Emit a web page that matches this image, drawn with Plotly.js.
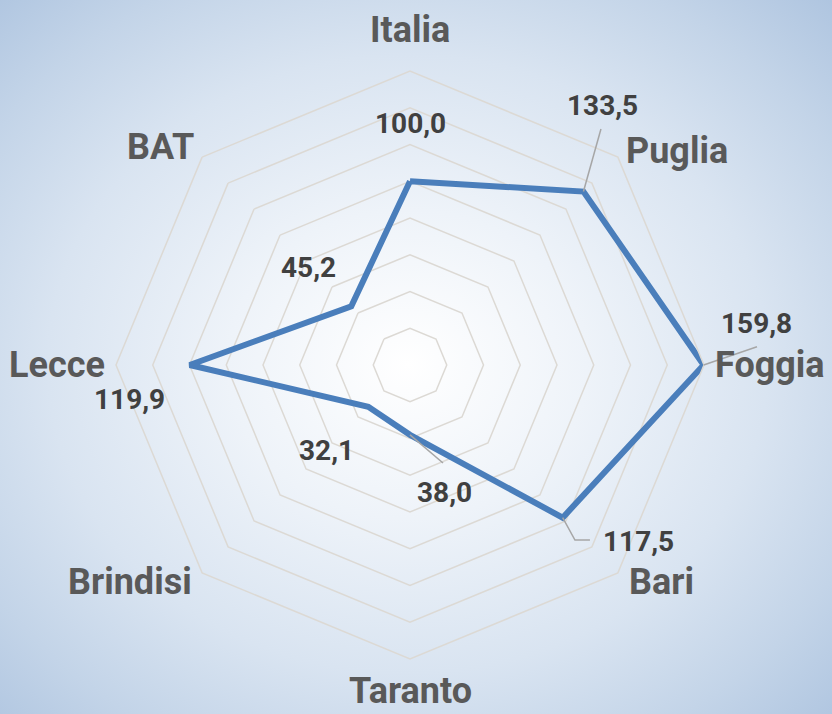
<!DOCTYPE html>
<html>
<head>
<meta charset="utf-8">
<script src="https://cdn.plot.ly/plotly-3.0.1.min.js"></script>
<style>
  html, body { margin: 0; padding: 0; }
  body {
    width: 832px; height: 714px; overflow: hidden;
    background: radial-gradient(ellipse farthest-corner at 49% 51%, #ffffff 0%, #eef3f9 30%, #d9e4f1 60%, #c3d4e8 82%, #afc5e0 100%);
  }
  #chart { width: 832px; height: 714px; }
</style>
</head>
<body>
<div id="chart"></div>
<script>
// ---- data ----
const categories = ["Italia", "Puglia", "Foggia", "Bari", "Taranto", "Brindisi", "Lecce", "BAT"];
const values = [100.0, 133.5, 159.8, 117.5, 38.0, 32.1, 119.9, 45.2];
const valueLabels = ["100,0", "133,5", "159,8", "117,5", "38,0", "32,1", "119,9", "45,2"];
const radialMax = 160;
const radialStep = 20;

// ---- label placement (style: radial offset in axis units, angular offset in degrees) ----
const labelDr = [31.7, 42.0, 30.4, 39.6, 33.7, 32.6, 33.7, 31.4];
const labelDt = [0, -8.45, -6.9, -7.2, -15.4, -0.7, -7.1, -0.9];
// category label placement outside the outer ring (radius in axis units, angular offset)
const catLabelR = [182.3, 186.0, 195.9, 180.6, 177.4, 192.8, 192.1, 180.5];
const catLabelDt = [0, 6.3, 0, -4.2, 0, 7.2, 0, -3.9];
// leader lines: list of [pointIndex, [[dr, dtheta], ...]]
const leaders = [
  [1, [[31.7, -6.02]]],
  [2, [[29.3, -3.0]]],
  [3, [[13.4, 1.7], [19.1, -0.8]]],
  [4, [[18.3, -18.6]]]
];

const FONT = "Roboto, 'Open Sans', sans-serif";
const step = 360 / categories.length;
const baseAngle = categories.map((c, i) => i * step);

// geometry of the polar area (pixels) — the overlay axes use the same units as the radial axis
const W = 832, H = 714, CX = 410, CY = 365, RPX = 294;
const s = RPX / radialMax;
const toX = (r, t) => r * Math.sin(t * Math.PI / 180);
const toY = (r, t) => r * Math.cos(t * Math.PI / 180);

const lineTrace = {
  type: "scatterpolar",
  subplot: "polar",
  r: values.concat([values[0]]),
  theta: categories.concat([categories[0]]),
  mode: "lines",
  line: { color: "#4a7ebb", width: 6, shape: "linear" },
  hoverinfo: "skip",
  showlegend: false
};

// anchor trace so the overlay cartesian axes exist
const anchorTrace = {
  type: "scatter", xaxis: "x", yaxis: "y",
  x: [0], y: [0], mode: "none", hoverinfo: "skip", showlegend: false
};

const shapes = leaders.map(([idx, pts]) => {
  let p = "M " + toX(values[idx], baseAngle[idx]) + " " + toY(values[idx], baseAngle[idx]);
  pts.forEach(([dr, dt]) => {
    p += " L " + toX(values[idx] + dr, baseAngle[idx] + dt) + " " + toY(values[idx] + dr, baseAngle[idx] + dt);
  });
  return { type: "path", xref: "x", yref: "y", path: p, layer: "above",
           line: { color: "#a6a6a6", width: 1.5 } };
});

const annotations = [];
values.forEach((v, i) => {
  annotations.push({
    xref: "x", yref: "y",
    x: toX(v + labelDr[i], baseAngle[i] + labelDt[i]),
    y: toY(v + labelDr[i], baseAngle[i] + labelDt[i]),
    text: valueLabels[i], showarrow: false,
    xanchor: "center", yanchor: "middle",
    font: { family: FONT, size: 28, color: "#404040", weight: 700 }
  });
});
categories.forEach((c, i) => {
  annotations.push({
    xref: "x", yref: "y",
    x: toX(catLabelR[i], baseAngle[i] + catLabelDt[i]),
    y: toY(catLabelR[i], baseAngle[i] + catLabelDt[i]),
    text: c, showarrow: false,
    xanchor: "center", yanchor: "middle",
    font: { family: FONT, size: 36, color: "#595959", weight: 700 }
  });
});

const domain = { x: [(CX - RPX) / W, (CX + RPX) / W], y: [(H - CY - RPX) / H, (H - CY + RPX) / H] };

const layout = {
  width: W, height: H,
  margin: { l: 0, r: 0, t: 0, b: 0 },
  paper_bgcolor: "rgba(0,0,0,0)",
  plot_bgcolor: "rgba(0,0,0,0)",
  showlegend: false,
  polar: {
    domain: domain,
    bgcolor: "rgba(0,0,0,0)",
    gridshape: "linear",
    radialaxis: {
      range: [0, radialMax], dtick: radialStep, tick0: 0,
      showticklabels: false, ticks: "", showline: false,
      gridcolor: "#dcd9d4", gridwidth: 1.5
    },
    angularaxis: {
      type: "category",
      categoryarray: categories,
      direction: "clockwise", rotation: 90,
      showgrid: false, ticks: "", showticklabels: false,
      showline: true, linecolor: "#dcd9d4", linewidth: 1.5
    }
  },
  xaxis: {
    domain: [0, 1], range: [-CX / s, (W - CX) / s],
    visible: false, fixedrange: true
  },
  yaxis: {
    domain: [0, 1], range: [-(H - CY) / s, CY / s],
    visible: false, fixedrange: true
  },
  shapes: shapes,
  annotations: annotations
};

Plotly.newPlot("chart", [lineTrace, anchorTrace], layout, { displayModeBar: false, staticPlot: true });
</script>
</body>
</html>
